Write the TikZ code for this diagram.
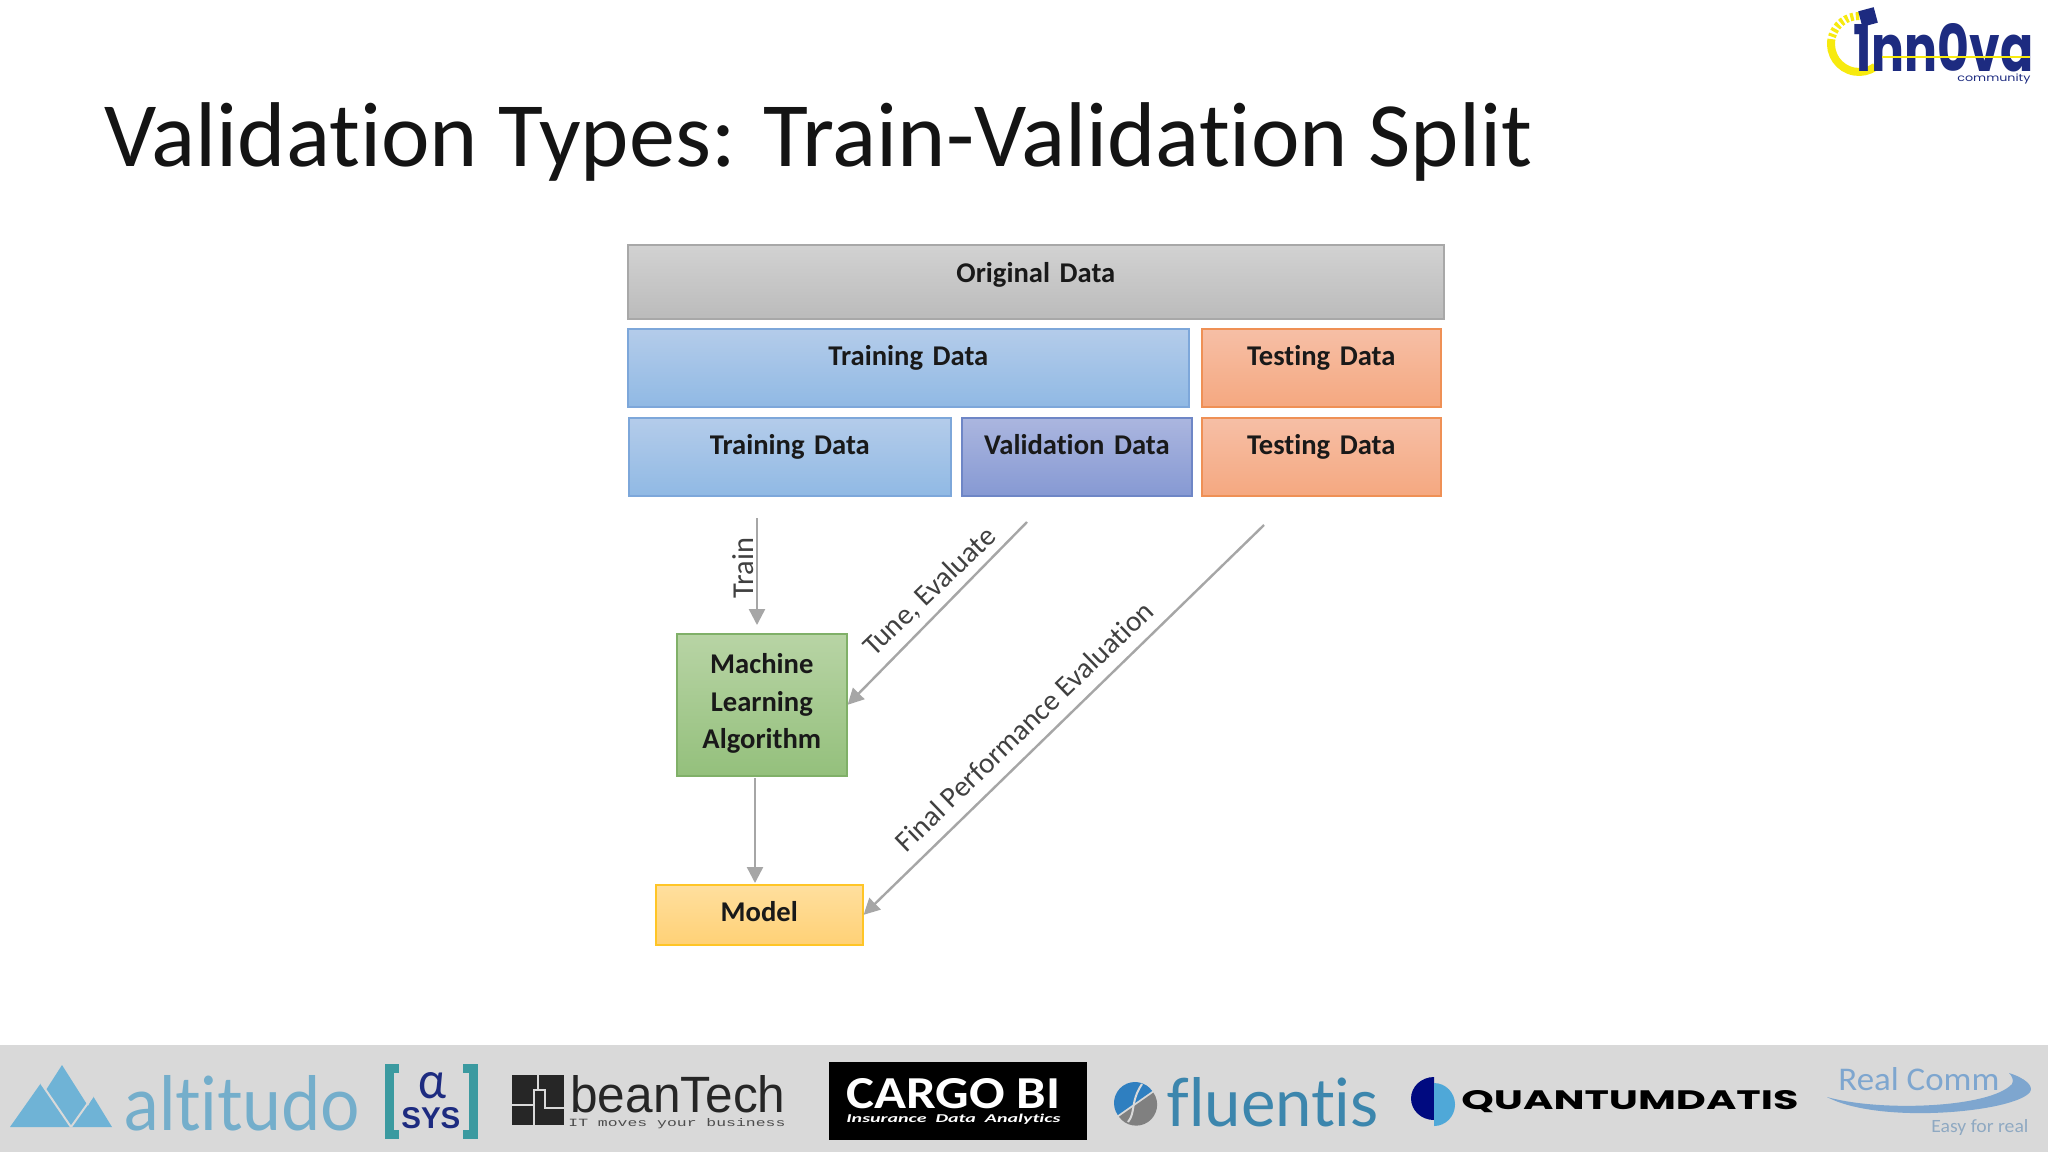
\documentclass[tikz,border=0pt]{standalone}
\usepackage{fontspec}
\usepackage{graphicx}
\setmainfont[Ligatures=NoCommon]{Carlito}
\newfontfamily\latofont[Ligatures=NoCommon]{Lato}
\newfontfamily\popfont{Poppins}
\newfontfamily\monofnt{Liberation Mono}
\newfontfamily\sansfnt{Liberation Sans}
\usetikzlibrary{arrows.meta}
\definecolor{greyT}{HTML}{D2D2D2}\definecolor{greyB}{HTML}{BBBBBB}\definecolor{greyL}{HTML}{A8A8A8}
\definecolor{blueT}{HTML}{B4CCEA}\definecolor{blueB}{HTML}{90B9E4}\definecolor{blueL}{HTML}{7DA7DA}
\definecolor{purpT}{HTML}{ABB6DF}\definecolor{purpB}{HTML}{8699D3}\definecolor{purpL}{HTML}{6E86C6}
\definecolor{oranT}{HTML}{F6BFA6}\definecolor{oranB}{HTML}{F5A880}\definecolor{oranL}{HTML}{EF9055}
\definecolor{greeT}{HTML}{B8D4A5}\definecolor{greeB}{HTML}{94C07C}\definecolor{greeL}{HTML}{80B068}
\definecolor{yellT}{HTML}{FFDF9E}\definecolor{yellB}{HTML}{FFD176}\definecolor{yellL}{HTML}{FFC526}
\definecolor{arrowgrey}{HTML}{A6A6A6}\definecolor{band}{HTML}{D9D9D9}
\definecolor{navy}{HTML}{1D2B80}\definecolor{sunny}{HTML}{F7EA0E}
\definecolor{alti}{HTML}{6FB3D6}\definecolor{altitxt}{HTML}{74AECB}\definecolor{teal}{HTML}{3B9AA0}
\definecolor{flu}{HTML}{3C86AD}\definecolor{flublue}{HTML}{2F7FC0}\definecolor{rc}{HTML}{7EA6CF}\definecolor{rcs}{HTML}{8FA9C2}
\definecolor{qnavy}{HTML}{000A80}\definecolor{qblue}{HTML}{4FA8D8}
\tikzset{
  x=0.5pt,y=-0.5pt,
  databox/.style={inner sep=0pt,draw,line width=0.8pt,align=center,font=\fontsize{14.3}{16}\selectfont\bfseries,text=black!90},
  greybox/.style={databox,top color=greyT,bottom color=greyB,draw=greyL},
  bluebox/.style={databox,top color=blueT,bottom color=blueB,draw=blueL},
  purpbox/.style={databox,top color=purpT,bottom color=purpB,draw=purpL},
  oranbox/.style={databox,top color=oranT,bottom color=oranB,draw=oranL},
  greebox/.style={databox,top color=greeT,bottom color=greeB,draw=greeL},
  yellbox/.style={databox,top color=yellT,bottom color=yellB,draw=yellL},
  flow/.style={draw=arrowgrey,line width=1.2pt,-{Triangle[length=8pt,width=8pt]}},
  flowtext/.style={inner sep=0pt,text=black!75,font=\fontsize{14.6}{16}\selectfont},
  logotext/.style={inner sep=0pt,anchor=base west},
}
\newcommand\databoxat[8]{%
  \pgfmathsetmacro\bw{(#4-#2)*0.5}\pgfmathsetmacro\bh{(#7-#3)*0.5}\pgfmathsetmacro\bd{(#5-#7)*0.5}%
  \node[#6,anchor=north west,text width=\bw pt,text height=\bh pt,text depth=\bd pt] (#1) at (#2,#3) {#8};}
\newcommand\fitted[3]{\resizebox{#1pt}{#2pt}{#3}}
\begin{document}
\begin{tikzpicture}
\useasboundingbox (0,0) rectangle (2048,1152);
\fill[white] (0,0) rectangle (2048,1152);
\fill[band] (0,1045) rectangle (2048,1152);
% title
\node[inner sep=0pt,anchor=base west,font=\fontsize{46}{50}\selectfont,text=black!92] (title) at (104,166) {Validation Types: Train-Validation Split};
% boxes
\begin{scope}[shift={(-1,-1)}]
\databoxat{orig}{628}{245}{1444}{319}{greybox}{283}{Original Data}
\databoxat{train1}{628}{329}{1189}{407}{bluebox}{366}{Training Data}
\databoxat{test1}{1202}{329}{1441}{407}{oranbox}{366}{Testing Data}
\databoxat{train2}{629}{418}{951}{496}{bluebox}{455}{Training Data}
\databoxat{valid}{962}{418}{1192}{496}{purpbox}{455}{Validation Data}
\databoxat{test2}{1202}{418}{1441}{496}{oranbox}{455}{Testing Data}
\node[greebox,anchor=north west,minimum width=85pt,minimum height=71pt] (ml) at (677,634)
  {\raisebox{5pt}{\begin{tabular}{@{}c@{}}Machine\\[2.8pt]Learning\\[2.8pt]Algorithm\end{tabular}}};
\databoxat{model}{656}{885}{863}{945}{yellbox}{922}{Model}
\end{scope}
% connectors
\coordinate (trainfrom) at (757,518);
\coordinate (tunefrom) at (1027,522);
\coordinate (finalfrom) at (1264,525);
\coordinate (mlout) at (755,778);
\draw[flow,shorten >=4pt] (trainfrom) -- (trainfrom |- ml.north);
\draw[flow] (tunefrom) -- (ml.east);
\draw[flow] (finalfrom) -- (model.east);
\draw[flow,shorten >=0.5pt] (mlout) -- (mlout |- model.north);
\node[flowtext,rotate=90,font=\fontsize{15.2}{16}\selectfont] (lbltrain) at (743,568) {Train};
\node[flowtext,rotate=44] (lbltune) at (930,592) {Tune, Evaluate};
\node[flowtext,rotate=44] (lblfinal) at (1024,726) {Final Performance Evaluation};
% inn0va logo
\draw[sunny,line width=4pt] (1831.4,39.1) arc[start angle=170,end angle=305,radius=14pt];
\draw[sunny,line width=4pt,dash pattern=on 1.6pt off 1.2pt] (1859,16) arc[start angle=90,end angle=165,radius=14pt];
\node[logotext,text=navy] (innova) at (1853,71) {\fitted{90}{24}{\popfont\bfseries 1nn0va}};
\fill[navy,rotate around={15:(1868,17)}] (1860,9) rectangle (1876,25);
\draw[sunny,line width=0.8pt] (1882,57) -- (2030,57);
\node[logotext,text=navy] (commun) at (1957,81) {\fitted{36.5}{3.8}{\popfont community}};
% altitudo
\fill[alti] (10,1127) -- (41,1083) -- (46,1090) -- (62,1065) -- (88,1106) -- (93,1096) -- (112,1127) -- cycle;
\draw[band,line width=1pt] (41,1083) -- (71,1127) (93,1096) -- (71,1127);
\node[logotext,text=altitxt] (altitudo) at (124,1130) {\fitted{117.5}{27.5}{\latofont altitudo}};
% alpha sys
\draw[teal,line width=4.5pt] (399,1068) -- (389,1068) -- (389,1134) -- (399,1134);
\draw[teal,line width=4.5pt] (463,1068) -- (473,1068) -- (473,1134) -- (463,1134);
\node[logotext,text=navy] (alpha) at (418,1098) {\fitted{14}{13}{α}};
\node[logotext,text=navy] (sys) at (401,1128) {\fitted{29.5}{10.5}{\sansfnt\bfseries SYS}};
% beanTech
\fill[black!85] (512,1075) rectangle (564,1125);
\draw[band,line width=1.2pt] (512,1105) -- (534,1105) -- (534,1125) (534,1105) -- (534,1090) -- (545,1090) -- (545,1108) -- (564,1108) (538,1075) -- (538,1090);
\node[logotext,text=black!85] (bean) at (570,1112) {\fitted{107.5}{18.5}{\sansfnt beanTech}};
\node[logotext,text=black!70] (beantag) at (568,1126) {\fitted{108.5}{4}{\monofnt IT moves your business}};
% cargo
\fill[black] (829,1062) rectangle (1087,1140);
\node[logotext,text=white] (cargo) at (846,1108) {\fitted{107}{15}{\bfseries CARGO BI}};
\node[logotext,text=white] (cargotag) at (846,1122) {\fitted{107}{4.2}{\bfseries\itshape Insurance~~Data~~Analytics}};
% fluentis
\fill[flublue,rotate around={35:(1135,1103)}] (1114,1103) arc[start angle=180,end angle=0,radius=10.5pt] -- cycle;
\fill[black!50,rotate around={35:(1135,1103)}] (1114,1105) arc[start angle=180,end angle=360,radius=10.5pt] -- cycle;
\draw[band,line width=1pt] (1128,1122) .. controls (1136,1112) and (1130,1102) .. (1142,1084);
\node[logotext,text=flu] (fluentis) at (1166,1126) {\fitted{106}{24.5}{\latofont fluentis}};
% quantumdatis
\fill[qnavy] (1434,1077) arc[start angle=90,end angle=270,x radius=11.5pt,y radius=10.75pt] -- cycle;
\fill[qblue] (1434,1083) arc[start angle=90,end angle=-90,x radius=10.5pt,y radius=10.75pt] -- cycle;
\node[logotext,text=black] (quantum) at (1461,1109) {\fitted{168.5}{9.5}{\popfont\bfseries QUANTUMDATIS}};
% real comm
\node[logotext,text=rc] (real) at (1838,1090) {\fitted{80.5}{11.5}{Real Comm}};
\fill[rc] (1827,1097) .. controls (1880,1112) and (1990,1108) .. (2012,1084) .. controls (2014,1080) and (2012,1076) .. (2009,1073) .. controls (2025,1078) and (2034,1086) .. (2030,1092) .. controls (2015,1112) and (1880,1125) .. (1827,1097);
\node[logotext,text=rcs] (easy) at (1931,1132) {\fitted{48.5}{6.5}{Easy for real}};
\end{tikzpicture}
\end{document}
